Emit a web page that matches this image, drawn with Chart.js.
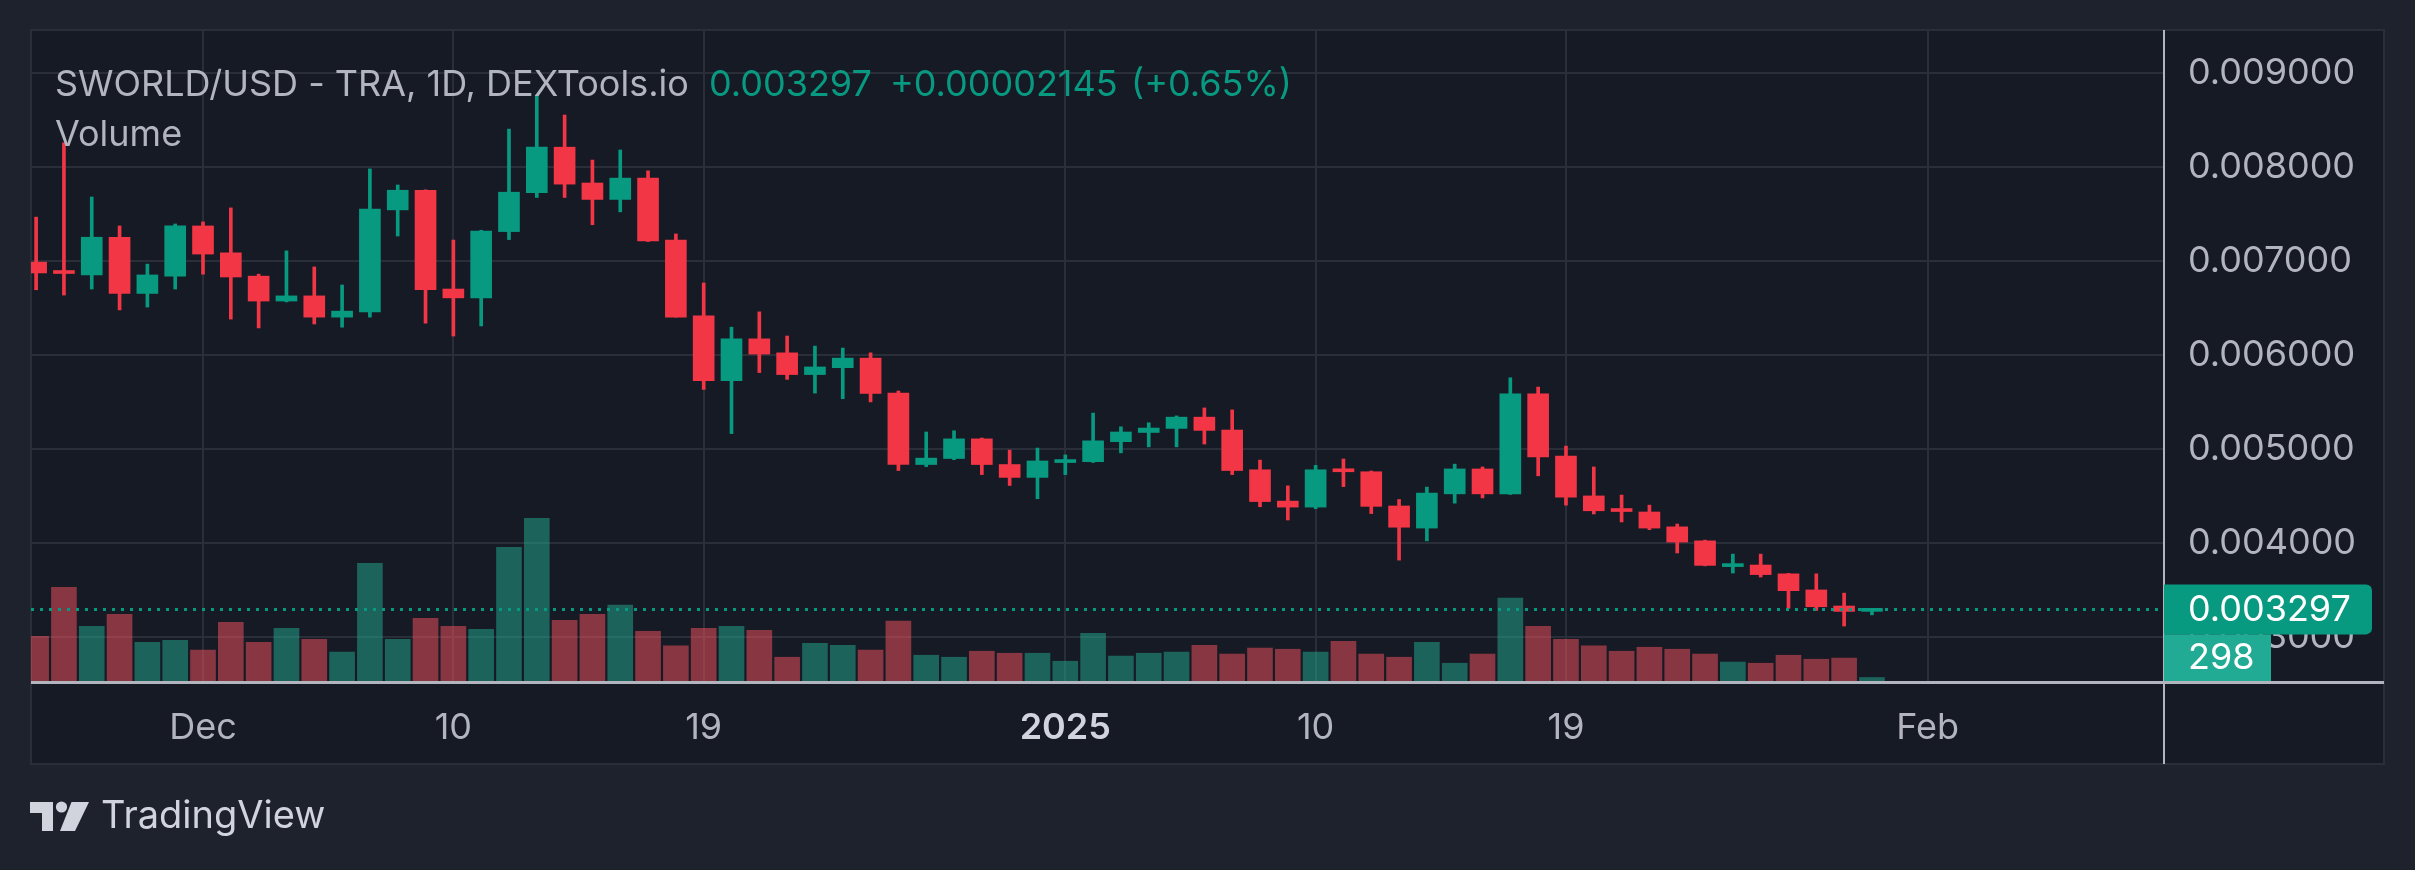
<!DOCTYPE html>
<html>
<head>
<meta charset="utf-8">
<script src="https://cdn.jsdelivr.net/npm/chart.js@4.4.1/dist/chart.umd.min.js"></script>
<style>
  html, body { margin: 0; padding: 0; background: #1e222d; }
  #wrap { width: 2415px; height: 870px; }
</style>
</head>
<body>
<div id="wrap"><canvas id="chart" width="2415" height="870"></canvas></div>
<script>
// daily candles, SWORLD/USD
const dates = [
  '2024-11-25','2024-11-26','2024-11-27','2024-11-28','2024-11-29','2024-11-30',
  '2024-12-01','2024-12-02','2024-12-03','2024-12-04','2024-12-05','2024-12-06','2024-12-07',
  '2024-12-08','2024-12-09','2024-12-10','2024-12-11','2024-12-12','2024-12-13','2024-12-14',
  '2024-12-15','2024-12-16','2024-12-17','2024-12-18','2024-12-19','2024-12-20','2024-12-21',
  '2024-12-22','2024-12-23','2024-12-24','2024-12-25','2024-12-26','2024-12-27','2024-12-28',
  '2024-12-29','2024-12-30','2024-12-31','2025-01-01','2025-01-02','2025-01-03','2025-01-04',
  '2025-01-05','2025-01-06','2025-01-07','2025-01-08','2025-01-09','2025-01-10','2025-01-11',
  '2025-01-12','2025-01-13','2025-01-14','2025-01-15','2025-01-16','2025-01-17','2025-01-18',
  '2025-01-19','2025-01-20','2025-01-21','2025-01-22','2025-01-23','2025-01-24','2025-01-25',
  '2025-01-26','2025-01-27','2025-01-28','2025-01-29','2025-01-30'
];

const open = [
  0.006991, 0.006897, 0.006855, 0.007256, 0.006658, 0.006842, 0.007376, 0.007090, 0.006842, 0.006577,
  0.006632, 0.006406, 0.006462, 0.007547, 0.007756, 0.006705, 0.006611, 0.007316, 0.007731, 0.008214,
  0.007833, 0.007658, 0.007885, 0.007226, 0.006419, 0.005731, 0.006175, 0.006026, 0.005795, 0.005868,
  0.005970, 0.005598, 0.004838, 0.004902, 0.005111, 0.004838, 0.004701, 0.004859, 0.004868, 0.005081,
  0.005179, 0.005222, 0.005342, 0.005205, 0.004782, 0.004449, 0.004385, 0.004791, 0.004761, 0.004397,
  0.004162, 0.004526, 0.004791, 0.004526, 0.005590, 0.004927, 0.004504, 0.004368, 0.004333, 0.004175,
  0.004026, 0.003752, 0.003769, 0.003675, 0.003504, 0.003333, 0.003276
];
const high = [
  0.007470, 0.008260, 0.007684, 0.007376, 0.006970, 0.007397, 0.007419, 0.007568, 0.006863, 0.007111,
  0.006940, 0.006748, 0.007983, 0.007812, 0.007760, 0.007226, 0.007330, 0.008406, 0.008769, 0.008556,
  0.008077, 0.008184, 0.007962, 0.007291, 0.006769, 0.006299, 0.006462, 0.006205, 0.006098, 0.006077,
  0.006026, 0.005620, 0.005184, 0.005197, 0.005120, 0.004991, 0.005013, 0.004940, 0.005385, 0.005239,
  0.005282, 0.005355, 0.005440, 0.005419, 0.004885, 0.004611, 0.004829, 0.004897, 0.004769, 0.004466,
  0.004598, 0.004842, 0.004812, 0.005761, 0.005662, 0.005034, 0.004812, 0.004513, 0.004406, 0.004205,
  0.004034, 0.003885, 0.003885, 0.003680, 0.003675, 0.003470, 0.003300
];
const low = [
  0.006697, 0.006641, 0.006705, 0.006483, 0.006513, 0.006705, 0.006863, 0.006385, 0.006291, 0.006568,
  0.006333, 0.006299, 0.006406, 0.007269, 0.006342, 0.006205, 0.006312, 0.007231, 0.007679, 0.007679,
  0.007389, 0.007526, 0.007210, 0.006406, 0.005637, 0.005167, 0.005816, 0.005744, 0.005598, 0.005538,
  0.005504, 0.004774, 0.004816, 0.004889, 0.004731, 0.004615, 0.004474, 0.004731, 0.004860, 0.004962,
  0.005026, 0.005026, 0.005056, 0.004731, 0.004389, 0.004248, 0.004368, 0.004603, 0.004316, 0.003821,
  0.004026, 0.004427, 0.004483, 0.004520, 0.004718, 0.004406, 0.004312, 0.004227, 0.004145, 0.003897,
  0.003760, 0.003684, 0.003641, 0.003308, 0.003286, 0.003120, 0.003239
];
const close = [
  0.006876, 0.006870, 0.007256, 0.006658, 0.006855, 0.007376, 0.007077, 0.006833, 0.006577, 0.006632,
  0.006406, 0.006470, 0.007556, 0.007756, 0.006697, 0.006611, 0.007321, 0.007735, 0.008214, 0.007821,
  0.007658, 0.007885, 0.007218, 0.006406, 0.005731, 0.006175, 0.006013, 0.005795, 0.005876, 0.005970,
  0.005594, 0.004838, 0.004906, 0.005111, 0.004838, 0.004701, 0.004876, 0.004885, 0.005090, 0.005184,
  0.005226, 0.005342, 0.005201, 0.004774, 0.004444, 0.004385, 0.004782, 0.004761, 0.004393, 0.004171,
  0.004534, 0.004791, 0.004526, 0.005590, 0.004919, 0.004491, 0.004346, 0.004338, 0.004162, 0.004013,
  0.003765, 0.003782, 0.003667, 0.003496, 0.003325, 0.0032756, 0.003297
];
const volume = [
  3790, 7960, 4640, 5670, 3280, 3450, 2630, 4990, 3280, 4470,
  3550, 2460, 10010, 3550, 5330, 4640, 4400, 11370, 13830, 5160,
  5670, 6450, 4230, 2980, 4470, 4640, 4300, 2020, 3210, 3040,
  2630, 5090, 2190, 2020, 2530, 2360, 2360, 1680, 4060, 2120,
  2360, 2460, 3040, 2290, 2800, 2700, 2460, 3380, 2290, 2020,
  3280, 1510, 2290, 7040, 4640, 3550, 2980, 2530, 2870, 2700,
  2290, 1610, 1510, 2190, 1850, 1950, 298
];

const tickDates = ['2024-12-01', '2024-12-10', '2024-12-19', '2025-01-01', '2025-01-10', '2025-01-19', '2025-02-01'];
const tickLabels = ['Dec', '10', '19', '2025', '10', '19', 'Feb'];
const priceTicks = [0.003, 0.004, 0.005, 0.006, 0.007, 0.008, 0.009];

const lastPrice = 0.003297;
const lastVolume = 298;

const UP = '#089981';
const DOWN = '#f23645';
const UP_VOL = 'rgba(34,171,148,0.5)';
const DOWN_VOL = 'rgba(247,82,95,0.5)';
const TEXT = '#b2b5be';

const DAY = 864e5;
const base = Date.parse('2024-12-01');
const dayOf = d => (Date.parse(d) - base) / DAY;

const xs = dates.map(dayOf);
const tickXs = tickDates.map(dayOf);
const up = close.map((c, i) => c >= open[i]);

const chrome = {
  id: 'chrome',
  beforeDraw(chart) {
    const { ctx } = chart;
    ctx.save();
    ctx.fillStyle = '#1e222d';
    ctx.fillRect(0, 0, chart.width, chart.height);
    ctx.fillStyle = '#161a25';
    ctx.fillRect(31, 30, 2353, 734);
    ctx.strokeStyle = '#2a2e39';
    ctx.lineWidth = 2;
    ctx.strokeRect(31, 30, 2353, 734);
    ctx.restore();
  },
  afterDatasetsDraw(chart) {
    const { ctx, chartArea } = chart;
    const y = chart.scales.y.getPixelForValue(lastPrice);
    ctx.save();
    ctx.strokeStyle = UP;
    ctx.lineWidth = 3;
    ctx.setLineDash([3, 6]);
    ctx.beginPath();
    ctx.moveTo(chartArea.left, y);
    ctx.lineTo(chartArea.right, y);
    ctx.stroke();
    ctx.restore();
  },
  afterDraw(chart) {
    const { ctx, chartArea } = chart;
    ctx.save();

    // axis lines
    ctx.fillStyle = '#b2b5be';
    ctx.fillRect(31, chartArea.bottom, 2353, 3);
    ctx.fillRect(chartArea.right - 1, 30, 2, 734);

    // last price / volume labels
    const y = chart.scales.y.getPixelForValue(lastPrice);
    ctx.fillStyle = UP;
    ctx.beginPath();
    ctx.roundRect(chartArea.right, y - 25, 208, 50, [0, 6, 6, 0]);
    ctx.fill();
    ctx.fillStyle = '#22ab94';
    ctx.fillRect(chartArea.right, y + 25, 107, chartArea.bottom - y - 25);
    ctx.fillStyle = '#ffffff';
    ctx.font = '36px Inter';
    ctx.textBaseline = 'middle';
    ctx.fillText(lastPrice.toFixed(6), chartArea.right + 24, y + 1);
    ctx.fillText(String(lastVolume), chartArea.right + 24, y + 49);

    // legend text
    ctx.textBaseline = 'alphabetic';
    ctx.fillStyle = TEXT;
    ctx.fillText('SWORLD/USD - TRA, 1D, DEXTools.io', 55, 96);
    ctx.fillText('Volume', 55, 146);
    ctx.fillStyle = UP;
    ctx.fillText('0.003297', 709, 96);
    ctx.fillText('+0.00002145', 890, 96);
    ctx.fillText('(+0.65%)', 1131, 96);

    // TradingView mark
    ctx.fillStyle = '#d1d4dc';
    ctx.fillRect(30, 802, 23, 11);
    ctx.fillRect(42, 802, 11, 29);
    ctx.beginPath();
    ctx.arc(61.5, 807, 5.6, 0, Math.PI * 2);
    ctx.fill();
    ctx.beginPath();
    ctx.moveTo(71.5, 802);
    ctx.lineTo(89, 802);
    ctx.lineTo(75, 831);
    ctx.lineTo(60, 831);
    ctx.closePath();
    ctx.fill();
    ctx.font = '38px Inter';
    ctx.fillText('TradingView', 101, 828);

    ctx.restore();
  }
};

const ctx = document.getElementById('chart');

new Chart(ctx, {
  type: 'bar',
  data: {
    datasets: [
      {
        label: 'body',
        data: xs.map((x, i) => ({ x, y: [open[i], close[i]] })),
        backgroundColor: up.map(u => (u ? UP : DOWN)),
        barThickness: 21,
        minBarLength: 3,
        grouped: false,
        yAxisID: 'y',
        order: 0
      },
      {
        label: 'wick',
        data: xs.map((x, i) => ({ x, y: [low[i], high[i]] })),
        backgroundColor: up.map(u => (u ? UP : DOWN)),
        barThickness: 3,
        grouped: false,
        yAxisID: 'y',
        order: 1
      },
      {
        label: 'Volume',
        data: xs.map((x, i) => ({ x, y: volume[i] })),
        backgroundColor: up.map(u => (u ? UP_VOL : DOWN_VOL)),
        barThickness: 25,
        grouped: false,
        yAxisID: 'v',
        order: 2
      }
    ]
  },
  options: {
    responsive: false,
    maintainAspectRatio: false,
    animation: false,
    devicePixelRatio: 1,
    layout: {
      padding: { left: 31, top: 30, right: 31, bottom: 106 }
    },
    plugins: {
      legend: { display: false },
      tooltip: { enabled: false }
    },
    scales: {
      x: {
        type: 'linear',
        min: -6.184,
        max: 70.5,
        offset: false,
        bounds: 'data',
        border: { display: false },
        grid: { color: '#2a2e39', lineWidth: 2, drawTicks: false, offset: false },
        afterBuildTicks: s => { s.ticks = tickXs.map(v => ({ value: v })); },
        afterFit: s => {
          s.height = 83;
          s.paddingLeft = 0;
          s.paddingRight = 0;
        },
        ticks: {
          autoSkip: false,
          maxRotation: 0,
          padding: 26,
          color: c => (c.tick && c.tick.label === '2025' ? '#d1d4dc' : TEXT),
          font: c => ({
            family: 'Inter',
            size: 36,
            weight: c.tick && c.tick.label === '2025' ? '600' : '400'
          }),
          callback: (v, i) => tickLabels[i]
        }
      },
      y: {
        type: 'linear',
        position: 'right',
        min: 0.0025351,
        max: 0.0094606,
        bounds: 'data',
        border: { display: false },
        grid: { color: '#2a2e39', lineWidth: 2, drawTicks: false },
        afterBuildTicks: s => { s.ticks = priceTicks.map(v => ({ value: v })); },
        afterFit: s => {
          s.width = 220;
          s.paddingTop = 0;
          s.paddingBottom = 0;
        },
        ticks: {
          padding: 24,
          color: TEXT,
          font: { family: 'Inter', size: 36 },
          callback: v => v.toFixed(6)
        }
      },
      v: {
        type: 'linear',
        display: false,
        min: 0,
        max: 55335
      }
    }
  },
  plugins: [chrome]
});
</script>
</body>
</html>
